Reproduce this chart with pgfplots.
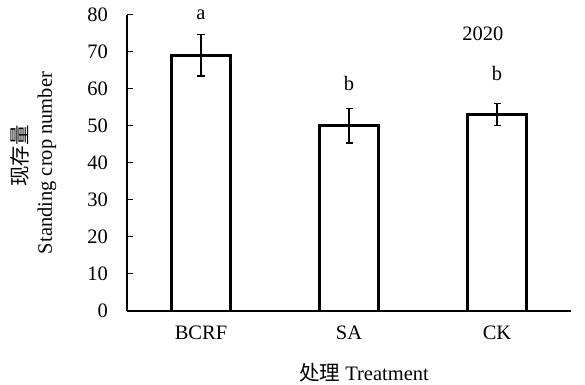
\documentclass[border=0pt]{standalone}
\usepackage{fontspec}
\setmainfont{Liberation Serif}
\newfontfamily\cjk{Noto Sans CJK SC}
\usepackage{pgfplots}
\pgfplotsset{compat=1.18}
\begin{document}
\fontsize{20.5bp}{24bp}\selectfont
\begin{tikzpicture}
\useasboundingbox (-127bp,-74bp) rectangle (458bp,311bp);
\begin{axis}[
  at={(0,0)}, anchor=south west,
  scale only axis, width=444bp, height=296.5bp,
  xmin=-0.5, xmax=2.5, ymin=0, ymax=80,
  axis lines=left, axis line style={-, line width=1.2bp},
  ytick={0,10,...,80},
  ytick pos=left,
  xtick={0,1,2}, xticklabels={BCRF,SA,CK},
  major x tick style={draw=none},
  extra x ticks={0.5,1.5,2.5}, extra x tick labels={},
  extra x tick style={major tick length=6bp, tick style={line width=1bp, black}},
  tick align=inside,
  major tick length=6bp,
  tick style={line width=1bp, black},
  /pgf/number format/assume math mode=true,
  ticklabel style={font=\fontsize{20.5bp}{24bp}\selectfont},
  yticklabel style={xshift=-12bp},
  xticklabel style={yshift=-8bp},
  clip=false,
]
\addplot[ybar, bar width=59bp, draw=black, line width=2.8bp, fill=white,
  error bars/.cd, y dir=both, y explicit,
  error bar style={line width=1.3bp, black},
  error mark options={rotate=90, mark size=3.5bp, line width=1.3bp, black}]
  coordinates {(0,69) +- (0,5.6) (1,50) +- (0,4.7) (2,53) +- (0,3.0)};
\node at (axis cs:0,79.9) {a};
\node at (axis cs:1,61.5) {b};
\node at (axis cs:2,64.2) {b};
\node at (axis cs:1.905,74.7) {2020};
\end{axis}
\node[rotate=90] at (-107bp,155bp) {\cjk 现存量};
\node[rotate=90] at (-80bp,148bp) {Standing crop number};
\node at (237bp,-62bp) {{\cjk 处理} Treatment};
\end{tikzpicture}
\end{document}
